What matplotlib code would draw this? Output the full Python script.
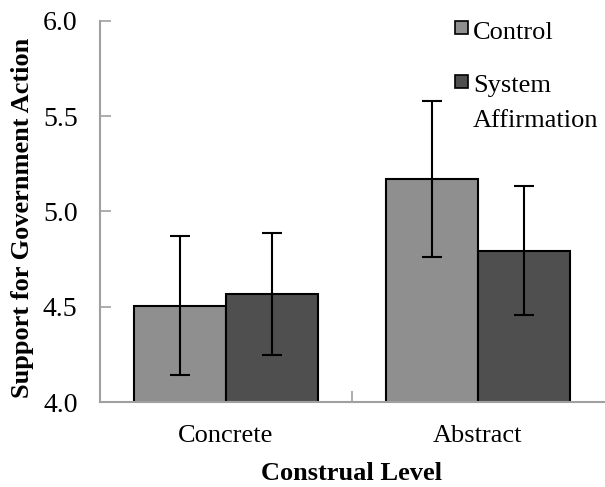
import matplotlib.pyplot as plt
from matplotlib.patches import Rectangle
import numpy as np

# data
levels = ['Concrete', 'Abstract']
control = [4.505, 5.17]
control_err = [0.365, 0.41]
system = [4.565, 4.795]
system_err = [0.32, 0.34]
series_names = ['Control', 'System\nAffirmation']
colors = ['#8f8f8f', '#4f4f4f']

plt.rcParams['font.family'] = ['Liberation Serif', 'DejaVu Serif']

fig = plt.figure(figsize=(6.05, 4.87), dpi=100)
ax = fig.add_axes([0.165, 0.1745, 0.833, 0.7825])

x = np.arange(len(levels))
w = 0.365
ekw = dict(elinewidth=1.5, capthick=1.5, ecolor='black')
ax.bar(x - w / 2, control, w, yerr=control_err, color=colors[0],
       edgecolor='black', linewidth=1.5, capsize=7, error_kw=ekw)
ax.bar(x + w / 2, system, w, yerr=system_err, color=colors[1],
       edgecolor='black', linewidth=1.5, capsize=7, error_kw=ekw)

ax.set_xlim(-0.5, 1.5)
ax.set_ylim(4.0, 6.0)
ax.set_yticks([4.0, 4.5, 5.0, 5.5, 6.0])
ax.set_yticklabels(['4.0', '4.5', '5.0', '5.5', '6.0'], fontsize=20)
ax.set_xticks([0.5])
ax.set_xticklabels([''])
for i, lab in enumerate(levels):
    ax.text(i, -0.09, lab, transform=ax.get_xaxis_transform(),
            ha='center', va='center', fontsize=19)
ax.tick_params(axis='both', direction='in', length=8, width=1.2, color='#a0a0a0')
ax.tick_params(axis='y', pad=16)
for s in ['top', 'right']:
    ax.spines[s].set_visible(False)
for s in ['left', 'bottom']:
    ax.spines[s].set_color('#a0a0a0')
    ax.spines[s].set_linewidth(1.5)

ax.text(0.5, -0.188, 'Construal Level', transform=ax.transAxes,
        ha='center', va='center', fontsize=19, fontweight='bold')
ax.text(-0.154, 0.482, 'Support for Government Action', transform=ax.transAxes,
        ha='center', va='center', rotation=90, fontsize=19, fontweight='bold')

# legend drawn by hand so the square sits on the first text line
for name, c, sq_top, base in zip(series_names, colors, [21, 75], [39, 92]):
    fig.patches.append(Rectangle((455 / 605, 1 - (sq_top + 13) / 487), 13 / 605, 13 / 487,
                                 transform=fig.transFigure, facecolor=c,
                                 edgecolor='black', linewidth=1.2))
    for k, line in enumerate(name.split('\n')):
        fig.text(473 / 605, 1 - (base + 35 * k) / 487, line, ha='left',
                 va='baseline', fontsize=19)

fig.savefig('out.png', dpi=100)
